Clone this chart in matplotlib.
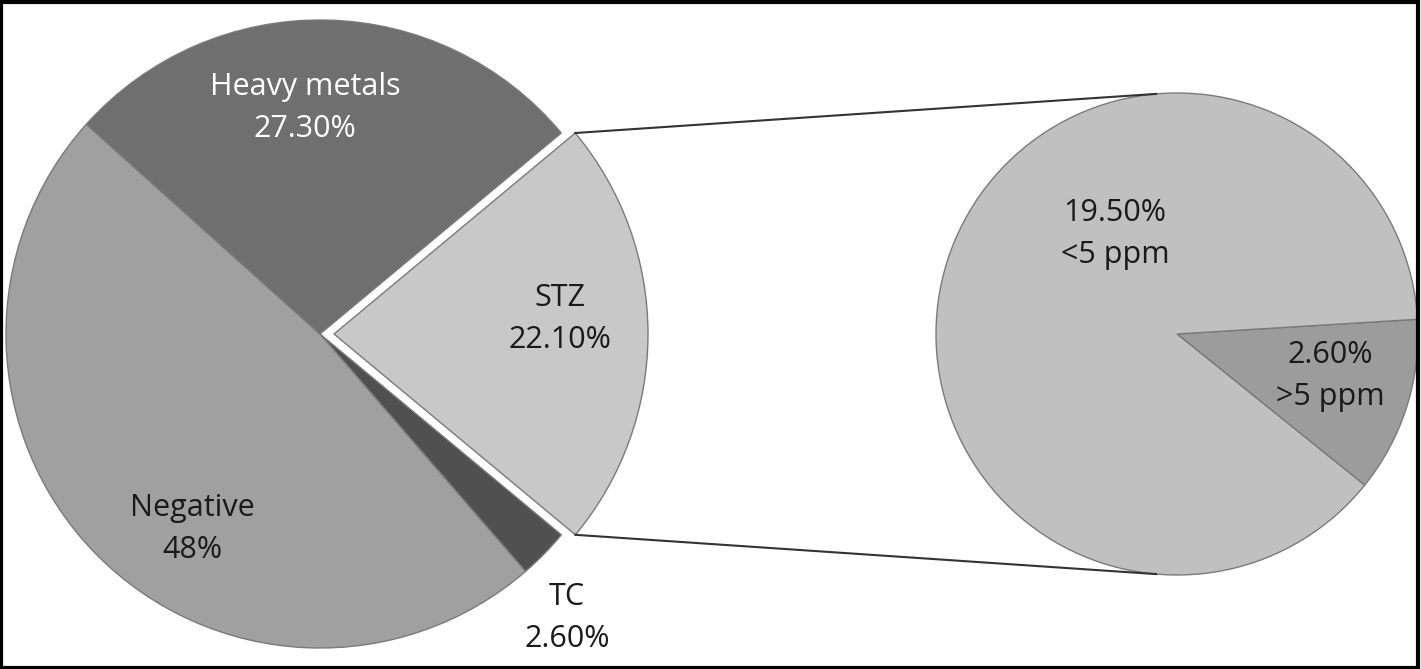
"""Pie-of-pie: share of samples by contaminant, with the STZ slice split by ppm level."""

import numpy as np
import matplotlib

matplotlib.use("Agg")
import matplotlib.pyplot as plt
from matplotlib.patches import Rectangle

# main pie, clockwise starting with the exploded STZ slice
main_labels = ["STZ", "TC", "Negative", "Heavy metals"]
main_values = [22.1, 2.6, 48.0, 27.3]
main_texts = ["STZ\n22.10%", "TC\n2.60%", "Negative\n48%", "Heavy metals\n27.30%"]
main_colors = ["#c8c8c8", "#505050", "#a0a0a0", "#6f6f6f"]

# secondary pie: breakdown of STZ
sub_labels = [">5 ppm", "<5 ppm"]
sub_values = [2.6, 19.5]
sub_texts = ["2.60%\n>5 ppm", "19.50%\n<5 ppm"]
sub_colors = ["#9c9c9c", "#c0c0c0"]

W, H = 1421, 669
plt.rcParams["font.family"] = ["Open Sans", "DejaVu Sans"]

fig = plt.figure(figsize=(W / 100, H / 100), dpi=100)
ax = fig.add_axes([0, 0, 1, 1])

# pie geometry in pixel units (axes spans the whole figure)
left_c, left_r = (320, H - 334), 314
right_c, right_r = (1177, H - 334), 241

wedges, _ = ax.pie(
    main_values, colors=main_colors, startangle=39.8, counterclock=False,
    explode=[14, 0, 0, 0], center=left_c, radius=left_r,
    wedgeprops=dict(edgecolor="#7a7a7a", linewidth=1.0),
)
sub_wedges, _ = ax.pie(
    sub_values, colors=sub_colors, startangle=3.5, counterclock=False,
    center=right_c, radius=right_r,
    wedgeprops=dict(edgecolor="#7a7a7a", linewidth=1.0),
)

# connector lines from the STZ slice corners to the secondary pie
stz = wedges[0]
cx, cy = stz.center
for theta, rim in [(stz.theta2, 95), (stz.theta1, -95)]:
    x0 = cx + stz.r * np.cos(np.radians(theta))
    y0 = cy + stz.r * np.sin(np.radians(theta))
    x1 = right_c[0] + right_r * np.cos(np.radians(rim))
    y1 = right_c[1] + right_r * np.sin(np.radians(rim))
    ax.plot([x0, x1], [y0, y1], color="#333333", lw=1.5)

text_kw = dict(ha="center", va="center", fontsize=22, linespacing=1.5)
main_pos = [(560, H - 319), (567, H - 618), (192, H - 529), (305, H - 108)]
main_tc = ["#1a1a1a", "#1a1a1a", "#1a1a1a", "white"]
for txt, pos, col in zip(main_texts, main_pos, main_tc):
    ax.text(*pos, txt, color=col, **text_kw)

sub_pos = [(1330, H - 376), (1115, H - 234)]
for txt, pos in zip(sub_texts, sub_pos):
    ax.text(*pos, txt, color="#1a1a1a", **text_kw)

ax.set_xlim(0, W)
ax.set_ylim(0, H)
ax.set_aspect("auto")
ax.axis("off")

fig.add_artist(Rectangle((0.001, 0.002), 0.997, 0.995, transform=fig.transFigure,
                         fill=False, edgecolor="black", linewidth=3))

fig.savefig("out.png", dpi=100)
